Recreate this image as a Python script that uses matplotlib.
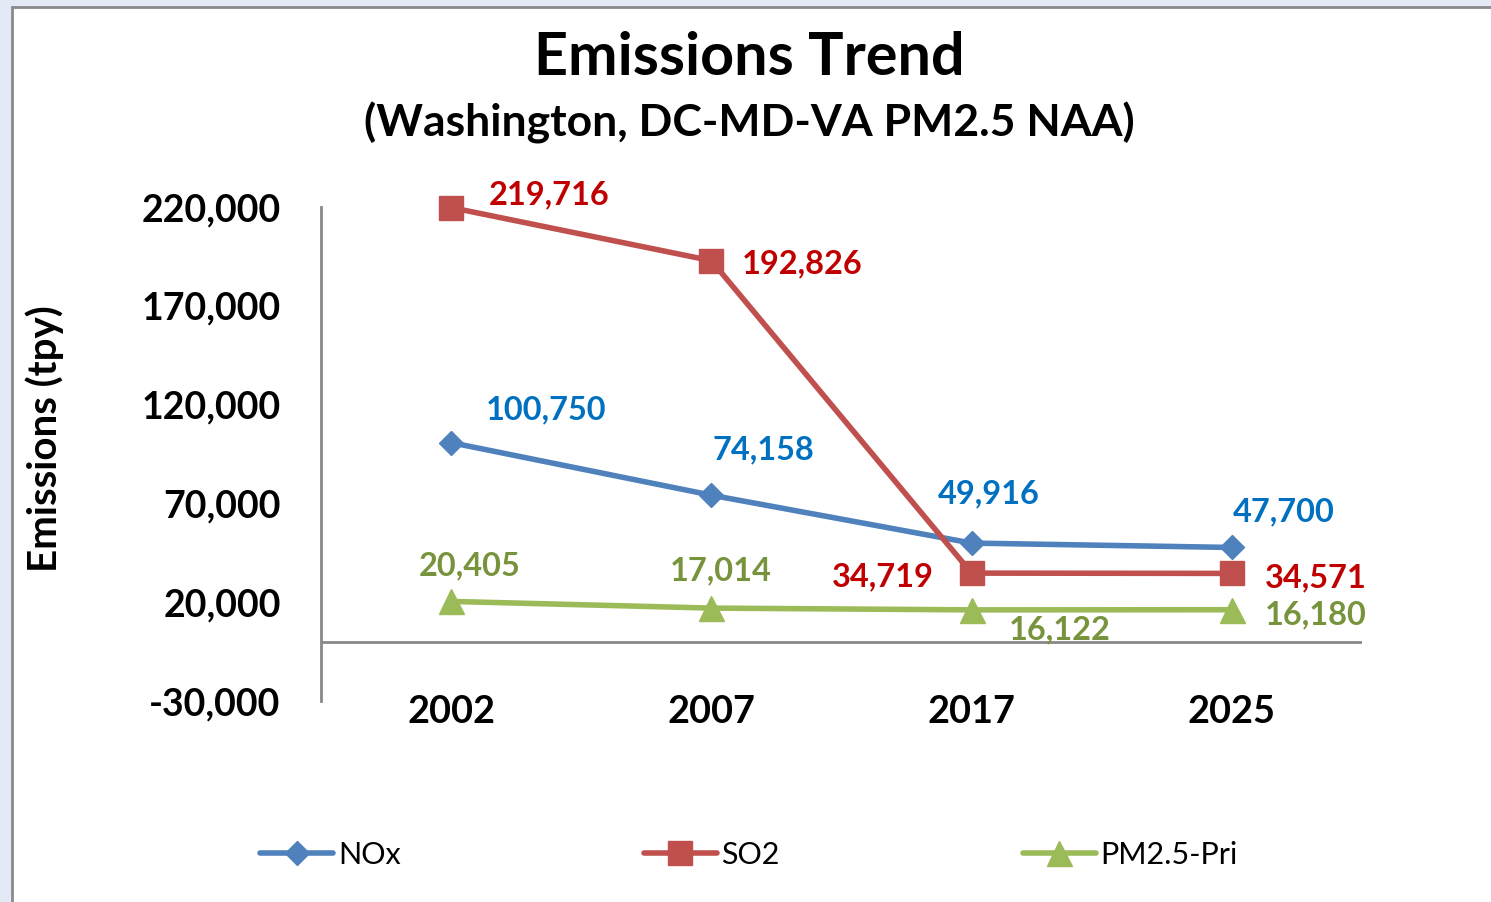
import numpy as np
import matplotlib.pyplot as plt
from matplotlib.patches import Rectangle

# chart data
years = ["2002", "2007", "2017", "2025"]
nox = [100750, 74158, 49916, 47700]
so2 = [219716, 192826, 34719, 34571]
pm25 = [20405, 17014, 16122, 16180]
y_ticks = [-30000, 20000, 70000, 120000, 170000, 220000]

plt.rcParams['font.family'] = ['Lato', 'DejaVu Sans']

W, H = 1491, 902
fig = plt.figure(figsize=(W / 100, H / 100), dpi=100)
fig.set_facecolor('#e4eaf5')
#white slide panel with grey border
fig.patches.append(Rectangle((12 / W, -0.02), 1.0, 1 - 7 / H + 0.02, transform=fig.transFigure,
                             facecolor='white', edgecolor='#8a8a8a', lw=2, zorder=-5))

ax = fig.add_axes([321 / W, 201 / H, 1041 / W, 494 / H])
ax.patch.set_alpha(0)
x = np.arange(len(years))

#label offsets in pixels (dx, dy up)
series = [
    ("NOx", nox, '#4F81BD', '#0070C0', 'D', 12, [(95, 33), (52, 45), (17, 49), (52, 36)]),
    ("SO2", so2, '#C0504D', '#C00000', 's', 17, [(98, 13), (91, -3), (-89, -4), (84, -4)]),
    ("PM2.5-Pri", pm25, '#9BBB59', '#77933C', '^', 18, [(19, 36), (9, 37), (88, -20), (84, -5)]),
]

for name, vals, lc, tc, mk, ms, offs in series:
    ax.plot(x, vals, color=lc, lw=4, marker=mk, markersize=ms, label=name,
            solid_capstyle='round', clip_on=False)
    for xi, v, (dx, dy) in zip(x, vals, offs):
        ax.annotate(f"{v:,}", (xi, v), xytext=(dx, dy), textcoords='offset pixels',
                    ha='center', va='center', color=tc, fontsize=23.4, fontweight='bold')

ax.set_xlim(-0.5, 3.5)
ax.set_ylim(-30000, 220000)
ax.axhline(0, color='#888888', lw=2, zorder=1)
ax.set_yticks(y_ticks)
ax.set_yticklabels([f"{v:,}" for v in y_ticks])
ax.set_xticks(x)
ax.set_xticklabels(years)
ax.tick_params(axis='y', length=0, pad=29, labelsize=27)
ax.tick_params(axis='x', length=0, pad=-4, labelsize=27.3)
for lab in ax.get_xticklabels() + ax.get_yticklabels():
    lab.set_fontweight('bold')
for s in ['top', 'right', 'bottom']:
    ax.spines[s].set_visible(False)
ax.spines['left'].set_color('#888888')
ax.spines['left'].set_linewidth(2)

fig.text(749 / W, 1 - 75 / H, "Emissions Trend", ha='center', va='baseline',
         fontsize=42.7, fontweight='bold')
fig.text(749 / W, 1 - 137 / H, "(Washington, DC-MD-VA PM2.5 NAA)", ha='center', va='baseline',
         fontsize=32, fontweight='bold')
fig.text(45 / W, 1 - 439 / H, "Emissions (tpy)", rotation=90, ha='center', va='center',
         fontsize=29, fontweight='bold')

fig.legend(loc='center left', bbox_to_anchor=(260 / W, 1 - 855 / H), ncol=3, frameon=False,
           fontsize=22, handlelength=2.4, handletextpad=0.15, columnspacing=7.95,
           borderpad=0, borderaxespad=0)

fig.savefig("out.png", dpi=100, facecolor=fig.get_facecolor())
